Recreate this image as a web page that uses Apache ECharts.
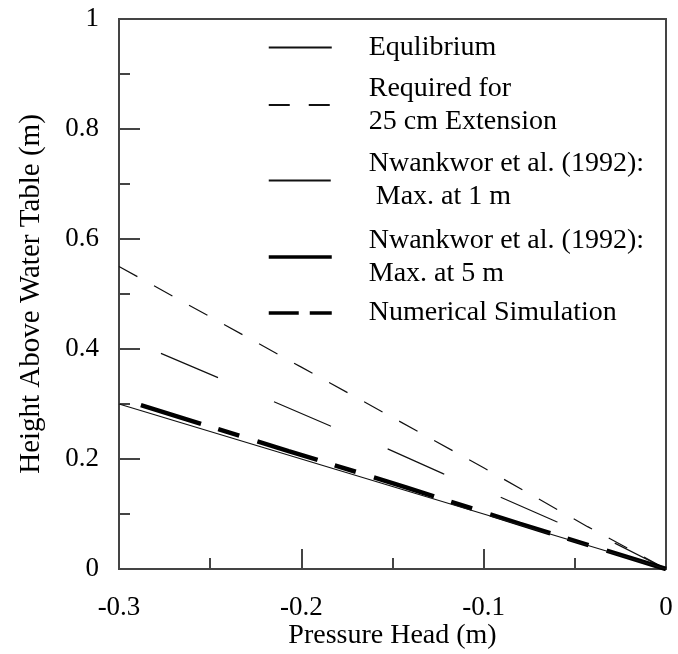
<!DOCTYPE html>
<html>
<head>
<meta charset="utf-8">
<script src="https://cdn.jsdelivr.net/npm/echarts@6/dist/echarts.min.js"></script>
<style>
html,body{margin:0;padding:0;background:#fff;}
#chart{width:678px;height:654px;}
</style>
</head>
<body>
<div id="chart"></div>
<script>
// ---- data ----
var seriesNames = [
  'Equlibrium',
  'Required for\n25 cm Extension',
  'Nwankwor et al. (1992):\n Max. at 1 m',
  'Nwankwor et al. (1992):\nMax. at 5 m',
  'Numerical Simulation'
];
var equilibrium = [[-0.3, 0.3], [0, 0]];
var required25cm = [[-0.3, 0.55], [-0.2, 0.367], [-0.1, 0.184], [-0.043, 0.077], [0, 0]];
var nwankworMax1m = [[-0.277, 0.392], [-0.245, 0.347], [-0.215, 0.304], [-0.184, 0.26], [-0.153, 0.219],
                     [-0.122, 0.173], [-0.091, 0.131], [-0.06, 0.086], [-0.029, 0.0485], [0, 0]];
var nwankworMax5m = [[-0.288, 0.298], [-0.207, 0.2145], [-0.143, 0.149], [-0.08, 0.082], [0, 0]];
var numericalSim = [[-0.288, 0.298], [-0.207, 0.2145], [-0.143, 0.149], [-0.08, 0.082], [0, 0]];
var xTicks = [-0.3, -0.2, -0.1, 0];
var yTicks = [0, 0.2, 0.4, 0.6, 0.8, 1];

var FONT = 'Liberation Serif';
var AX = '#444';

var chart = echarts.init(document.getElementById('chart'), null, {renderer: 'canvas'});
chart.setOption({
  animation: false,
  backgroundColor: '#fff',
  grid: {left: 119, right: 12, top: 19, bottom: 85, containLabel: false, outerBoundsMode: 'none',
         show: true, borderColor: AX, borderWidth: 2, backgroundColor: 'transparent'},
  legend: {
    orient: 'vertical', left: 267, top: 31, padding: 0, itemGap: 8,
    itemWidth: 63, itemHeight: 14,
    itemStyle: {color: 'transparent', borderColor: 'transparent', borderWidth: 0},
    textStyle: {fontFamily: FONT, fontSize: 28, lineHeight: 33, color: '#000', padding: [0, 0, 0, 32]},
    data: [
      {name: seriesNames[0]},
      {name: seriesNames[1]},
      {name: seriesNames[2], textStyle: {padding: [3, 0, 0, 32]}},
      {name: seriesNames[3], textStyle: {padding: [2, 0, 0, 32]}, lineStyle: {type: 'solid', width: 3.5}},
      {name: seriesNames[4], textStyle: {lineHeight: 22}, lineStyle: {type: [30, 11], width: 3.5}}
    ]
  },
  xAxis: {
    type: 'value', min: xTicks[0], max: xTicks[xTicks.length - 1], interval: 0.1,
    name: 'Pressure Head (m)', nameLocation: 'middle', nameGap: 53, nameMoveOverlap: false,
    nameTextStyle: {fontFamily: FONT, fontSize: 28, color: '#000'},
    axisLine: {show: true, onZero: false, lineStyle: {color: AX, width: 2}},
    axisTick: {show: true, inside: true, length: 20, lineStyle: {color: AX, width: 2}},
    minorTick: {show: true, splitNumber: 2, length: 11, lineStyle: {color: AX, width: 2}},
    splitLine: {show: false},
    axisLabel: {fontFamily: FONT, fontSize: 27, color: '#000', margin: 25,
      formatter: function (v) { return String(Math.round(v * 10) / 10); }}
  },
  yAxis: {
    type: 'value', min: yTicks[0], max: yTicks[yTicks.length - 1], interval: 0.2,
    name: 'Height Above Water Table (m)', nameLocation: 'middle', nameGap: 73, nameRotate: 90,
    nameTextStyle: {fontFamily: FONT, fontSize: 29, color: '#000'},
    axisLine: {show: true, onZero: false, lineStyle: {color: AX, width: 2}},
    axisTick: {show: true, inside: true, length: 21, lineStyle: {color: AX, width: 2}},
    minorTick: {show: true, splitNumber: 2, length: 11, lineStyle: {color: AX, width: 2}},
    splitLine: {show: false},
    axisLabel: {fontFamily: FONT, fontSize: 27, color: '#000', margin: 20,
      formatter: function (v) { return String(Math.round(v * 10) / 10); }}
  },
  series: [
    {name: seriesNames[0], type: 'line', data: equilibrium, symbol: 'none', z: 5,
     lineStyle: {color: '#111', width: 1.2, type: 'solid'}, itemStyle: {color: '#111'}},
    {name: seriesNames[1], type: 'line', data: required25cm, symbol: 'none',
     lineStyle: {color: '#111', width: 1.2, type: [21, 19]}, itemStyle: {color: '#111'}},
    {name: seriesNames[2], type: 'line', data: nwankworMax1m, symbol: 'none',
     lineStyle: {color: '#111', width: 1.2, type: [62, 61]}, itemStyle: {color: '#111'}},
    {name: seriesNames[3], type: 'line', data: nwankworMax5m, symbol: 'none',
     lineStyle: {color: '#000', width: 4.5, type: [22, 100], dashOffset: 41}, itemStyle: {color: '#000'}},
    {name: seriesNames[4], type: 'line', data: numericalSim, symbol: 'none',
     lineStyle: {color: '#000', width: 4.5, type: [63, 59]}, itemStyle: {color: '#000'}}
  ]
});
</script>
</body>
</html>
